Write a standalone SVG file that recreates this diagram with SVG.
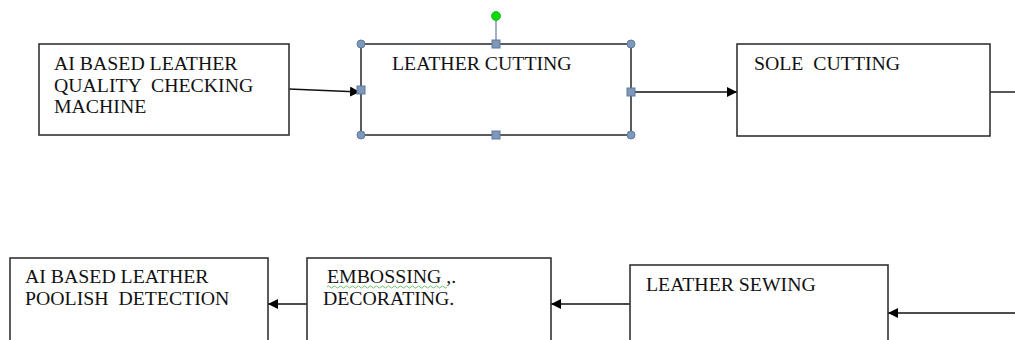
<svg xmlns="http://www.w3.org/2000/svg" width="1015" height="340" viewBox="0 0 1015 340">
<style>
.box{fill:#fff;stroke:#333;stroke-width:1.6}
.t{font-family:"Liberation Serif","Times New Roman",serif;font-size:19.8px;fill:#111}
.c{stroke:#111;stroke-width:1.4;fill:none}
.h{fill:#7f98b8;stroke:#5d7ca3;stroke-width:1}
</style>
<defs>
<marker id="ah" viewBox="0 0 10 10" refX="10" refY="5" markerWidth="10" markerHeight="10" markerUnits="userSpaceOnUse" orient="auto">
<path d="M0,0 L10,5 L0,10 z" fill="#000"/>
</marker>
</defs>
<rect width="1015" height="340" fill="#fff"/>
<g id="connectors">
<line class="c" x1="289" y1="89" x2="360" y2="92" marker-end="url(#ah)"/>
<line class="c" x1="631" y1="92" x2="737" y2="92" marker-end="url(#ah)"/>
<line class="c" x1="990" y1="92" x2="1015" y2="92"/>
<line class="c" x1="1015" y1="313" x2="888" y2="313" marker-end="url(#ah)"/>
<line class="c" x1="630" y1="304" x2="551" y2="304" marker-end="url(#ah)"/>
<line class="c" x1="307" y1="304" x2="268" y2="304" marker-end="url(#ah)"/>
</g>
<g id="n1">
<rect class="box" x="39" y="44" width="250" height="91"/>
<text class="t" x="54" y="70">AI BASED LEATHER</text>
<text class="t" x="54" y="92" xml:space="preserve">QUALITY  CHECKING</text>
<text class="t" x="54" y="113">MACHINE</text>
</g>
<g id="n2">
<rect class="box" x="361" y="44" width="270" height="91"/>
<text class="t" x="392" y="70">LEATHER CUTTING</text>
<line x1="496" y1="20" x2="496" y2="44" stroke="#7f98b8" stroke-width="1.5"/>
<circle cx="496" cy="16" r="4.5" fill="#00e000" stroke="#3a9a3a" stroke-width="0.8"/>
<circle class="h" cx="361" cy="44" r="4"/>
<circle class="h" cx="631" cy="44" r="4"/>
<circle class="h" cx="361" cy="135" r="4"/>
<circle class="h" cx="631" cy="135" r="4"/>
<rect class="h" x="492" y="40" width="8" height="8"/>
<rect class="h" x="492" y="131" width="8" height="8"/>
<rect class="h" x="357" y="86" width="8" height="8"/>
<rect class="h" x="627" y="88" width="8" height="8"/>
</g>
<g id="n3">
<rect class="box" x="737" y="44" width="253" height="92"/>
<text class="t" x="754" y="70" xml:space="preserve">SOLE  CUTTING</text>
</g>
<g id="n4">
<rect class="box" x="630" y="265" width="258" height="90"/>
<text class="t" x="646" y="291">LEATHER SEWING</text>
</g>
<g id="n5">
<rect class="box" x="307" y="258" width="244" height="97"/>
<text class="t" x="327" y="283">EMBOSSING ,.</text>
<path d="M327,287 q1.5,-2 3,0 t3,0 t3,0 t3,0 t3,0 t3,0 t3,0 t3,0 t3,0 t3,0 t3,0 t3,0 t3,0 t3,0 t3,0 t3,0 t3,0 t3,0 t3,0 t3,0 t3,0 t3,0 t3,0 t3,0 t3,0 t3,0 t3,0 t3,0 t3,0 t3,0 t3,0 t3,0 t3,0 t3,0 t3,0 t3,0 t3,0 t3,0 t3,0 t3,0" fill="none" stroke="#4caf50" stroke-width="0.8"/>
<text class="t" x="323" y="305">DECORATING.</text>
</g>
<g id="n6">
<rect class="box" x="10" y="258" width="258" height="97"/>
<text class="t" x="25" y="283">AI BASED LEATHER</text>
<text class="t" x="25" y="305" xml:space="preserve">POOLISH  DETECTION</text>
</g>
</svg>
